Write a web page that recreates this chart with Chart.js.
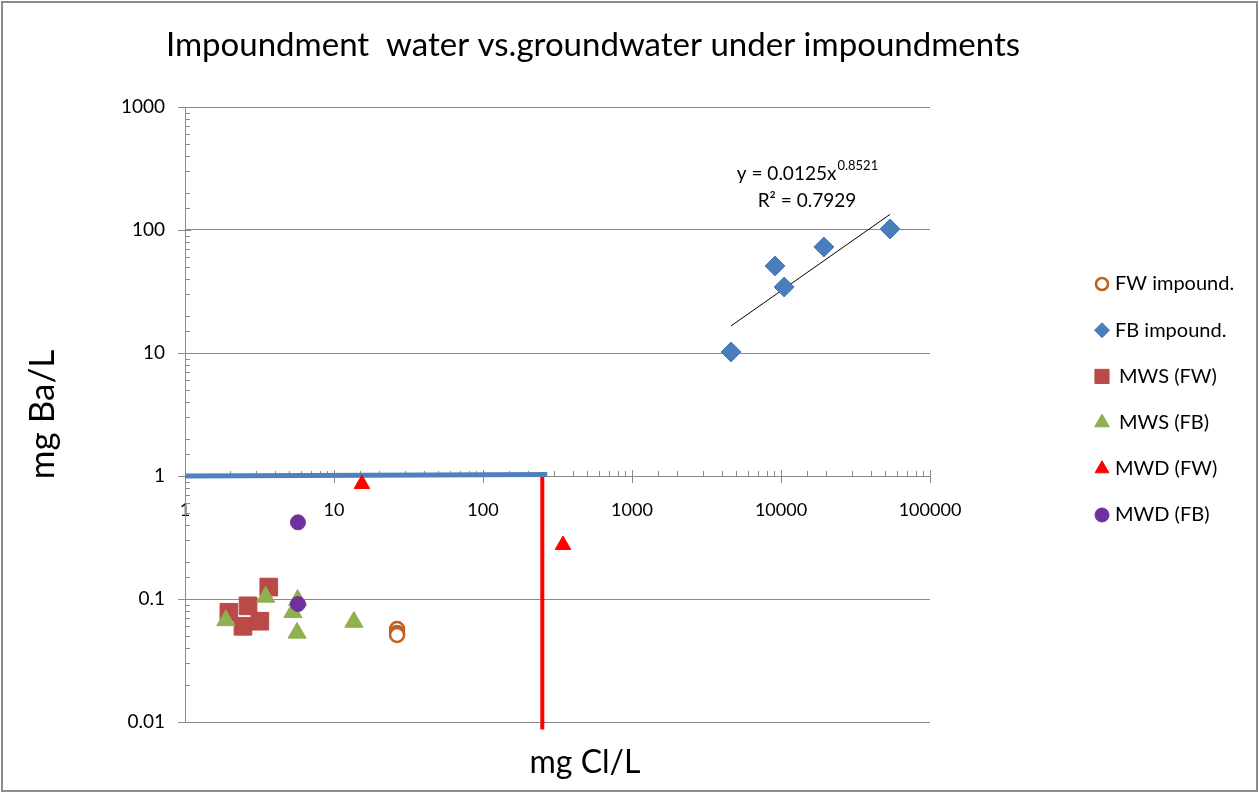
<!DOCTYPE html>
<html>
<head>
<meta charset="utf-8">
<script src="https://cdn.jsdelivr.net/npm/chart.js@4.4.1/dist/chart.umd.min.js"></script>
<style>
  html, body { margin: 0; padding: 0; background: #fff; }
  #wrap { width: 1259px; height: 793px; position: relative; }
</style>
</head>
<body>
<div id="wrap"><canvas id="chart" width="1259" height="793"></canvas></div>
<script>
// values (mg Cl/L vs mg Ba/L)
const fwImpoundCl = [26.5, 26.5, 26.5];
const fwImpoundBa = [0.057, 0.053, 0.051];

const fbImpoundCl = [4620, 9120, 10500, 19400, 53900];
const fbImpoundBa = [10.2, 51, 34.4, 72.8, 102];

const mwsFwCl = [1.97, 2.45, 2.65, 3.18, 3.65];
const mwsFwBa = [0.078, 0.060, 0.088, 0.066, 0.125];

const mwsFbCl = [1.88, 3.48, 5.3, 5.65, 5.7, 13.6];
const mwsFbBa = [0.067, 0.104, 0.078, 0.053, 0.098, 0.065];

const mwdFwCl = [15.4, 344];
const mwdFwBa = [0.86, 0.275];

const mwdFbCl = [5.73, 5.73];
const mwdFbBa = [0.42, 0.091];

// power trendline on FB impound. (end points)
const trendCl = [4620, 53900];
const trendBa = [16.6, 134];

// thick blue + red reference lines
const blueLineCl = [1, 270];
const blueLineBa = [1, 1.03];
const redLineCl = [250, 250];
const redLineBa = [1, 0.0087];

const xTickLabels = ['1', '10', '100', '1000', '10000', '100000'];
const yTickLabels = ['0.01', '0.1', '1', '10', '100', '1000'];

const chartTitle = 'Impoundment  water vs.groundwater under impoundments';
const xTitle = 'mg Cl/L';
const trendEq = ['y = 0.0125x', '0.8521', 'R² = 0.7929'];

const toPoints = (xs, ys) => xs.map((x, i) => ({ x: x, y: ys[i] }));
const isPow10 = v => Math.abs(Math.log10(v) - Math.round(Math.log10(v))) < 1e-6;
const axisGrey = '#8a8a8a';

const series = [
    { label: 'FW impound.', data: toPoints(fwImpoundCl, fwImpoundBa), pointStyle: 'circle', radius: 7, color: '#c0601c', fill: '#ffffff', border: 2.5, legendR: 6 },
    { label: 'FB impound.', data: toPoints(fbImpoundCl, fbImpoundBa), pointStyle: 'rectRot', radius: 10, color: '#4a7ebb', legendR: 7.5 },
    { label: 'MWS (FW)', data: toPoints(mwsFwCl, mwsFwBa), pointStyle: 'rect', radius: 12.5, color: '#b94a48', legendR: 10, indent: 4 },
    { label: 'MWS (FB)', data: toPoints(mwsFbCl, mwsFbBa), pointStyle: 'triangle', radius: 10.5, color: '#8fb04f', legendR: 8.5, indent: 4 },
    { label: 'MWD (FW)', data: toPoints(mwdFwCl, mwdFwBa), pointStyle: 'triangle', radius: 9, color: '#ff0000', legendR: 8 },
    { label: 'MWD (FB)', data: toPoints(mwdFbCl, mwdFbBa), pointStyle: 'circle', radius: 7.5, color: '#7030a0', legendR: 7 }
];

var datasets = series.map((s, i) => ({
    label: s.label,
    data: s.data,
    pointStyle: s.pointStyle,
    pointRadius: s.radius,
    pointHoverRadius: s.radius,
    pointBackgroundColor: s.fill ?? s.color,
    pointBorderColor: s.color,
    pointBorderWidth: s.border ?? 1,
    showLine: false,
    order: 10 - i
}));

datasets.push({
    label: 'trend',
    data: toPoints(trendCl, trendBa),
    showLine: true, pointRadius: 0, borderColor: '#000000', borderWidth: 1, order: 20
});
datasets.push({
    label: 'blue line',
    data: toPoints(blueLineCl, blueLineBa),
    showLine: true, pointRadius: 0, borderColor: '#4f81bd', borderWidth: 5, borderCapStyle: 'butt', order: 21
});
datasets.push({
    label: 'red line',
    data: toPoints(redLineCl, redLineBa),
    showLine: true, pointRadius: 0, borderColor: '#ff0000', borderWidth: 4, order: 22, clip: false
});

// tick marks drawn along the axis lines (x axis crosses at y = 1)
const tickMarks = {
    id: 'tickMarks',
    beforeDatasetsDraw(chart) {
        const ctx = chart.ctx, xs = chart.scales.x, ys = chart.scales.y;
        const y0 = ys.getPixelForValue(1), x0 = xs.left;
        ctx.save();
        ctx.strokeStyle = axisGrey;
        ctx.lineWidth = 1;
        ctx.beginPath();
        xs.ticks.forEach(t => {
            const px = Math.round(xs.getPixelForValue(t.value)) + 0.5;
            if (isPow10(t.value)) { ctx.moveTo(px, y0 - 6); ctx.lineTo(px, y0 + 7); }
            else { ctx.moveTo(px, y0 - 5); ctx.lineTo(px, y0); }
        });
        ys.ticks.forEach(t => {
            const py = Math.round(ys.getPixelForValue(t.value)) + 0.5;
            if (isPow10(t.value)) { ctx.moveTo(x0 - 7, py); ctx.lineTo(x0 + 6, py); }
            else { ctx.moveTo(x0, py); ctx.lineTo(x0 + 5, py); }
        });
        ctx.stroke();
        ctx.restore();
    }
};

// titles, legend, trendline label and outer frame
const extras = {
    id: 'extras',
    beforeDraw(chart) {
        const ctx = chart.ctx;
        ctx.save();
        ctx.strokeStyle = '#8c8c8c';
        ctx.lineWidth = 2;
        ctx.strokeRect(2, 2, 1255, 789);
        ctx.restore();
    },
    afterDraw(chart) {
        const ctx = chart.ctx;
        ctx.save();
        ctx.fillStyle = '#000000';
        ctx.textAlign = 'center';
        ctx.textBaseline = 'middle';
        ctx.font = '33px Lato';
        ctx.fillText(chartTitle, 593, 45);
        ctx.font = '32px Lato';
        ctx.fillText(xTitle, 585, 763);

        ctx.font = '20px Lato';
        series.forEach((s, i) => {
            const y = 284 + i * 46.2;
            ctx.fillStyle = s.fill ?? s.color;
            ctx.strokeStyle = s.color;
            ctx.lineWidth = s.border ?? 1;
            Chart.helpers.drawPoint(ctx, { pointStyle: s.pointStyle, radius: s.legendR, rotation: 0, borderWidth: s.border ?? 1 }, 1102, y);
            ctx.fillStyle = '#000000';
            ctx.textAlign = 'left';
            ctx.fillText(s.label, 1115 + (s.indent ?? 0), y);
        });

        // trendline equation
        ctx.fillStyle = '#000000';
        ctx.textAlign = 'left';
        ctx.textBaseline = 'alphabetic';
        ctx.font = '19px Lato';
        const w1 = ctx.measureText(trendEq[0]).width;
        ctx.font = '13px Lato';
        const w2 = ctx.measureText(trendEq[1]).width;
        const sx = 807 - (w1 + w2) / 2;
        ctx.font = '19px Lato';
        ctx.fillText(trendEq[0], sx, 180);
        ctx.font = '13px Lato';
        ctx.fillText(trendEq[1], sx + w1 + 1, 170);
        ctx.font = '19px Lato';
        ctx.textAlign = 'center';
        ctx.fillText(trendEq[2], 807, 207);
        ctx.restore();
    }
};

new Chart(document.getElementById('chart'), {
    type: 'scatter',
    data: { datasets: datasets },
    options: {
        responsive: false,
        animation: false,
        layout: { padding: { left: 0, right: 329, top: 107, bottom: 71 } },
        plugins: {
            legend: { display: false },
            tooltip: { enabled: false },
            title: { display: false }
        },
        scales: {
            x: {
                type: 'logarithmic',
                min: 1, max: 100000,
                position: { y: 1 },
                grid: { display: false },
                border: { display: true, color: axisGrey, width: 1 },
                ticks: {
                    autoSkip: false, maxRotation: 0, padding: 15,
                    color: '#000000', font: { family: 'Lato', size: 18 },
                    callback: (v) => isPow10(v) ? xTickLabels[Math.round(Math.log10(v))] : ''
                }
            },
            y: {
                type: 'logarithmic',
                min: 0.01, max: 1000,
                grid: {
                    color: (c) => (c.tick && isPow10(c.tick.value)) ? axisGrey : 'rgba(0,0,0,0)',
                    drawTicks: false
                },
                border: { display: true, color: axisGrey, width: 1 },
                ticks: {
                    autoSkip: false, padding: 20,
                    color: '#000000', font: { family: 'Lato', size: 19 },
                    callback: (v) => isPow10(v) ? yTickLabels[Math.round(Math.log10(v)) + 2] : ''
                },
                title: {
                    display: true, text: 'mg Ba/L', color: '#000000',
                    font: { family: 'Lato', size: 35 }, padding: { top: 22, bottom: 0 }
                },
                afterFit: (s) => { s.width = 185; }
            }
        }
    },
    plugins: [tickMarks, extras]
});
</script>
</body>
</html>
